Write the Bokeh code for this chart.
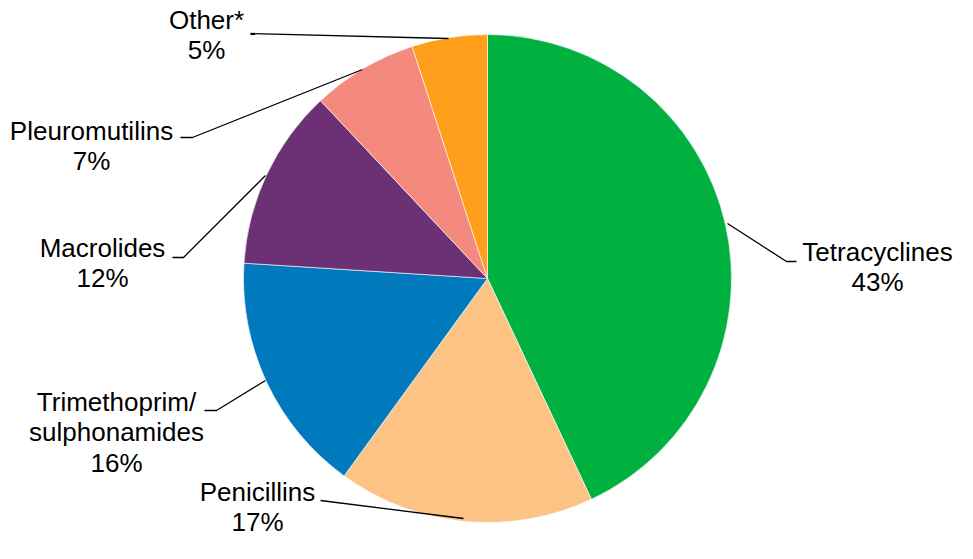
from math import pi
from bokeh.plotting import figure
from bokeh.models import Range1d, ColumnDataSource
from bokeh.embed import file_html
from bokeh.resources import INLINE
from bokeh.core.properties import value

# ---- data ----
categories = ["Tetracyclines", "Penicillins", "Trimethoprim/\nsulphonamides",
              "Macrolides", "Pleuromutilins", "Other*"]
values = [43, 17, 16, 12, 7, 5]
colors = ["#00B140", "#FDC385", "#007ABD", "#6C3074", "#F48A7E", "#FF9E1B"]

# ---- layout (pixel coordinates, y measured from top) ----
W, H = 957, 543
cx, cy, r = 487, 278, 244

# label anchors: (x centre, y of first line middle)
label_pos = [(877, 251), (257, 491), (116, 401), (102, 247), (91, 130), (206, 19)]
line_h = 30.5
# leader lines
leaders = [
    [(727, 223), (786, 261), (796, 261)],
    [(463, 518), (320, 500)],
    [(265, 380), (216, 410), (204, 410)],
    [(265, 175), (183, 257), (172, 257)],
    [(362, 69), (192, 137), (180, 137)],
    [(448, 38), (250, 33)],
]

def fy(y):
    return H - y

p = figure(width=W, height=H, output_backend="svg", toolbar_location=None,
           x_range=Range1d(0, W), y_range=Range1d(0, H), min_border=0)
p.axis.visible = False
p.grid.visible = False
p.outline_line_color = None
p.background_fill_color = "white"
p.border_fill_color = "white"

total = float(sum(values))
starts, ends = [], []
acc = 0.0
for v in values:
    a0 = pi / 2 - 2 * pi * acc / total
    acc += v
    a1 = pi / 2 - 2 * pi * acc / total
    starts.append(a0)
    ends.append(a1)

src = ColumnDataSource(dict(start=starts, end=ends, color=colors,
                            x=[cx] * len(values), y=[fy(cy)] * len(values)))
p.wedge(x="x", y="y", radius=r, start_angle="start", end_angle="end",
        direction="clock", fill_color="color", line_color="white", line_width=0.6,
        source=src)

for pts in leaders:
    p.line([q[0] for q in pts], [fy(q[1]) for q in pts], line_color="black", line_width=1.3)

tx, ty, tt = [], [], []
for cat, v, (lx, ly) in zip(categories, values, label_pos):
    lines = cat.split("\n") + ["%d%%" % round(100 * v / total)]
    for i, s in enumerate(lines):
        tx.append(lx)
        ty.append(fy(ly + i * line_h))
        tt.append(s)

p.text(x=tx, y=ty, text=tt, text_align="center", text_baseline="middle",
       text_font=value("Liberation Sans"), text_font_size="26px", text_color="black")

open("out.html", "w").write(file_html(p, INLINE))
